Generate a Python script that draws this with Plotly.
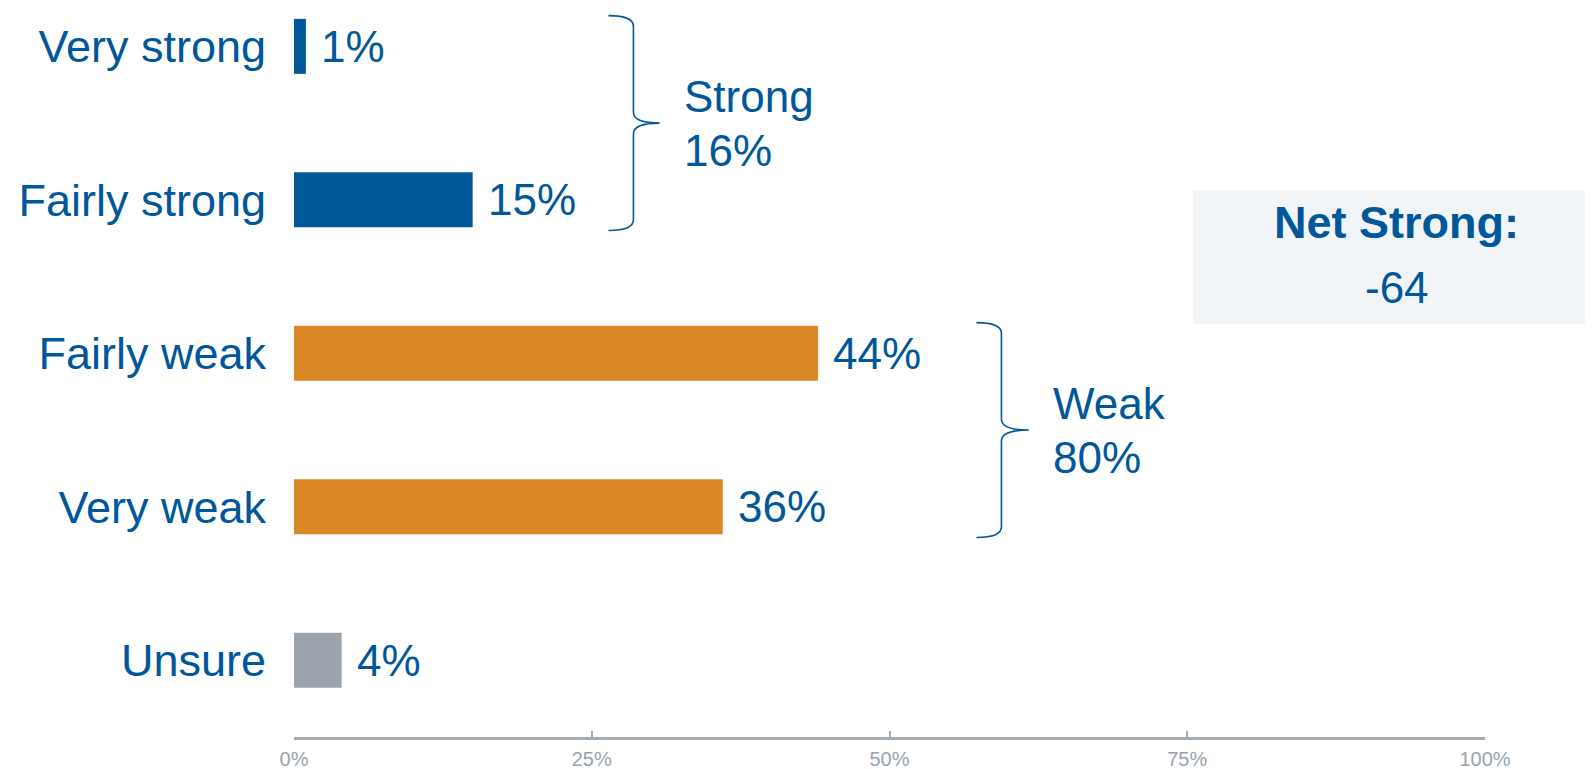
import plotly.graph_objects as go

categories = ["Very strong", "Fairly strong", "Fairly weak", "Very weak", "Unsure"]
values = [1, 15, 44, 36, 4]
bar_colors = ["#00579A", "#00579A", "#DB8927", "#DB8927", "#9AA3AC"]
x_ticks = [0, 25, 50, 75, 100]
x_tick_labels = ["0%", "25%", "50%", "75%", "100%"]

groups = ["Strong", "Weak"]
group_values = [16, 80]
group_members = [[0, 1], [2, 3]]
net_label = "Net Strong:"
net_value = "-64"

BLUE_TEXT = "#00579A"
FONT = "Liberation Sans, Arial, sans-serif"

idx = list(range(len(categories)))

fig = go.Figure()
fig.add_trace(go.Bar(
    x=values, y=idx, orientation="h",
    marker=dict(color=bar_colors, line=dict(width=0)),
    width=0.358, hoverinfo="skip",
))

# value labels
for i, v in zip(idx, values):
    fig.add_annotation(x=v, y=i, text=f"{v}%", xanchor="left", yanchor="middle",
                       xshift=13, showarrow=False,
                       font=dict(family=FONT, size=44, color=BLUE_TEXT))

# braces
brace_x = [(26.4, 28.5, 30.7), (57.3, 59.4, 61.7)]
text_x = [32.6, 63.6]
for g, gv, mem, (x0, xv, xt), tx in zip(groups, group_values, group_members, brace_x, text_x):
    yt = mem[0] - 0.2
    yb = mem[-1] + 0.2
    ym = (yt + yb) / 2
    c = 0.07
    path = (f"M {x0},{yt} Q {xv},{yt} {xv},{yt + c} "
            f"L {xv},{ym - c} Q {xv},{ym} {xt},{ym} "
            f"M {xt},{ym} Q {xv},{ym} {xv},{ym + c} "
            f"L {xv},{yb - c} Q {xv},{yb} {x0},{yb}")
    fig.add_shape(type="path", path=path, xref="x", yref="y",
                  line=dict(color=BLUE_TEXT, width=1.6))
    fig.add_annotation(x=tx, y=ym, text=g, xanchor="left", yanchor="middle",
                       yshift=27, showarrow=False,
                       font=dict(family=FONT, size=44, color=BLUE_TEXT))
    fig.add_annotation(x=tx, y=ym, text=f"{gv}%", xanchor="left", yanchor="middle",
                       yshift=-27, showarrow=False,
                       font=dict(family=FONT, size=44, color=BLUE_TEXT))

# net strong box
fig.add_shape(type="rect", xref="paper", yref="paper", x0=0.755, x1=1.1, y0=0.567, y1=0.750,
              fillcolor="#F1F5F8", line=dict(width=0), layer="below")
fig.add_annotation(xref="paper", yref="paper", x=0.926, y=0.706, text=f"<b>{net_label}</b>",
                   showarrow=False, xanchor="center", yanchor="middle",
                   font=dict(family=FONT, size=45, color=BLUE_TEXT))
fig.add_annotation(xref="paper", yref="paper", x=0.926, y=0.617, text=net_value,
                   showarrow=False, xanchor="center", yanchor="middle",
                   font=dict(family=FONT, size=44, color=BLUE_TEXT))

fig.update_layout(
    width=1593, height=769,
    margin=dict(l=286, r=116, t=0, b=40),
    paper_bgcolor="white", plot_bgcolor="white",
    showlegend=False,
    bargap=0.64,
    xaxis=dict(range=[0, 100], tickvals=x_ticks, ticktext=x_tick_labels,
               showgrid=False, zeroline=False, showline=True, linecolor="#A3ABB3", linewidth=2.5,
               ticks="inside", ticklen=6, tickcolor="#A3ABB3", tickwidth=1.5,
               ticklabelstandoff=2,
               tickfont=dict(family=FONT, size=20, color="#9AA3AD"), fixedrange=True),
    yaxis=dict(range=[4.5, -0.25], tickvals=idx, ticktext=categories,
               showgrid=False, zeroline=False, showline=False, ticks="",
               ticklabelstandoff=27,
               tickfont=dict(family=FONT, size=45, color=BLUE_TEXT), fixedrange=True),
)

fig.write_html("out.html", config={"displayModeBar": False})
